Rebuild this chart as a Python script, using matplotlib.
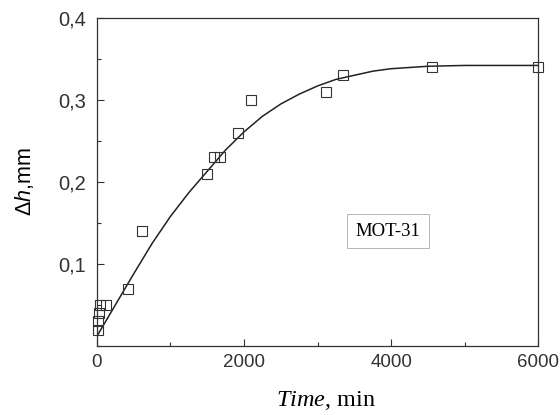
import matplotlib.pyplot as plt
from matplotlib.ticker import MultipleLocator, FixedLocator

plt.rcParams['mathtext.fontset'] = 'custom'
plt.rcParams['mathtext.it'] = 'Liberation Serif:italic'
plt.rcParams['mathtext.rm'] = 'Liberation Serif'
plt.rcParams['mathtext.sf'] = 'Liberation Sans:italic'
plt.rcParams['mathtext.bf'] = 'Liberation Sans'

# measured points
time_pts = [10, 20, 30, 40, 120, 420, 610, 1500, 1590, 1680, 1920, 2100, 3120, 3350, 4560, 6000]
dh_pts = [0.02, 0.03, 0.04, 0.05, 0.05, 0.07, 0.14, 0.21, 0.23, 0.23, 0.26, 0.30, 0.31, 0.33, 0.34, 0.34]

# fitted curve
time_fit = [0, 250, 500, 750, 1000, 1250, 1500, 1750, 2000, 2250, 2500, 2750, 3000,
            3250, 3500, 3750, 4000, 4500, 5000, 6000]
dh_fit = [0.012, 0.05, 0.088, 0.125, 0.158, 0.187, 0.213, 0.239, 0.261, 0.280, 0.295,
          0.307, 0.317, 0.325, 0.330, 0.335, 0.338, 0.341, 0.342, 0.342]

y_ticks = [0.1, 0.2, 0.3, 0.4]
y_labels = ['0,1', '0,2', '0,3', '0,4']
x_ticks = [0, 2000, 4000, 6000]

fig = plt.figure(figsize=(5.6, 4.15), dpi=100)
ax = fig.add_axes([0.173, 0.166, 0.788, 0.791])

ax.plot(time_fit, dh_fit, color='#222222', lw=1.1)
ax.plot(time_pts, dh_pts, 's', ms=7.5, mfc='none', mec='#333333', mew=0.8, clip_on=False)

ax.set_xlim(0, 6000)
ax.set_ylim(0, 0.4)
ax.xaxis.set_major_locator(FixedLocator(x_ticks))
ax.xaxis.set_minor_locator(MultipleLocator(1000))
ax.yaxis.set_major_locator(FixedLocator(y_ticks))
ax.yaxis.set_minor_locator(MultipleLocator(0.05))
ax.set_yticklabels(y_labels)
ax.tick_params(which='both', direction='in', top=False, right=False,
               colors='#333333', width=0.8)
ax.tick_params(axis='x', which='major', labelsize=13.5, pad=6)
ax.tick_params(axis='y', which='major', labelsize=14.5, pad=8)
ax.tick_params(which='major', length=5)
ax.tick_params(which='minor', length=3)
for lab in ax.get_xticklabels() + ax.get_yticklabels():
    lab.set_fontfamily('Liberation Sans')
for s in ax.spines.values():
    s.set_color('#333333')
    s.set_linewidth(0.9)

ax.set_ylabel(r'$\mathbf{Δ}\mathsf{h}\mathbf{{,}mm}$', fontsize=15.5, family='Liberation Sans', labelpad=16)
ax.set_xlabel(r'$\mathit{Time}$, min', fontsize=17.5, family='Liberation Serif', labelpad=13)
ax.xaxis.label.set_x(0.52)

ax.text(3960, 0.14, 'MOT-31', fontsize=13.5, family='Liberation Serif', ha='center', va='center',
        bbox=dict(boxstyle='square,pad=0.45', fc='white', ec='#aaaaaa', lw=0.6))

fig.savefig('out.png', dpi=100)
